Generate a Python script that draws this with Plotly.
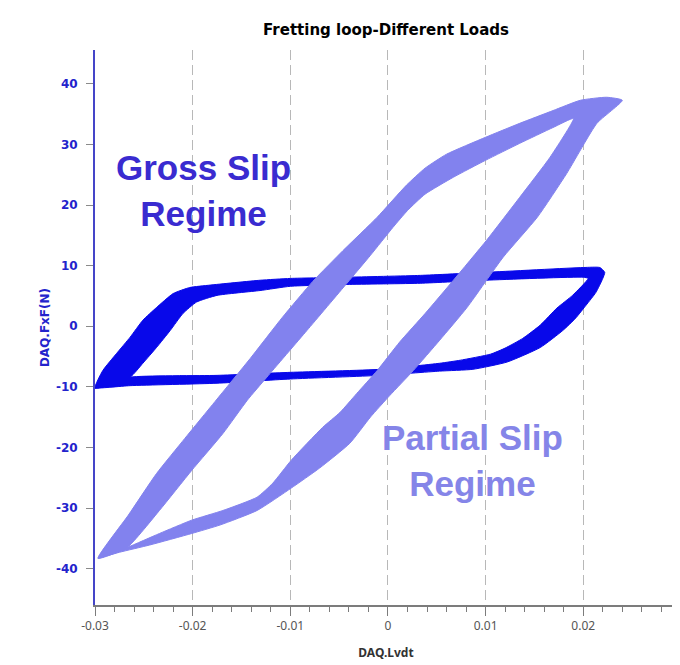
import plotly.graph_objects as go

# --- data (DAQ.Lvdt, DAQ.FxF(N)) ---
# partial slip loop: outer edge of the band (upper-left edge, then lower-right edge)
partial_outer_x = [-0.0297, -0.0266, -0.0237, -0.0208, -0.0177, -0.0141, -0.0108, -0.0077,
                   -0.0046, -0.0011, 0.0019, 0.0038, 0.0060, 0.0100, 0.0135, 0.0169, 0.0197, 0.0224,
                   0.0240, 0.0214, 0.0183, 0.0153, 0.0118, 0.0081, 0.0053, 0.0026, 0.0002,
                   -0.0018, -0.0039, -0.0070, -0.0099, -0.0134, -0.0172, -0.0201, -0.0244, -0.0275]
partial_outer_y = [-38.3, -31.2, -24.3, -18.5, -12.4, -5.3, 1.5, 7.4,
                   12.5, 18.0, 23.3, 26.1, 28.4, 31.2, 33.5, 35.6, 37.3, 37.8,
                   37.3, 33.5, 25.2, 18.0, 11.4, 3.1, -2.3, -7.3, -11.4,
                   -15.0, -19.3, -23.4, -26.7, -30.4, -32.8, -34.2, -36.1, -37.3]
# partial slip loop: inner edge of the band (the hole)
partial_inner_x = [-0.0267, -0.0234, -0.0201, -0.0169, -0.0144, -0.0124, -0.0083, -0.0042,
                   -0.0018, 0.0005, 0.0020, 0.0038, 0.0067, 0.0100, 0.0135, 0.0169, 0.0190,
                   0.0166, 0.0135, 0.0101, 0.0067, 0.0038, 0.0012, -0.0011, -0.0032,
                   -0.0049, -0.0067, -0.0099, -0.0118, -0.0134, -0.0169, -0.0201, -0.0234]
partial_inner_y = [-36.5, -30.4, -23.8, -17.7, -12.2, -8.4, -0.7, 7.1,
                   11.7, 16.3, 19.1, 21.8, 24.6, 27.4, 30.2, 32.8, 34.3,
                   27.9, 21.3, 14.2, 7.6, 2.1, -2.6, -7.3, -11.1,
                   -14.2, -16.7, -22.1, -25.9, -28.2, -30.4, -32.0, -34.2]

# gross slip loop: outer edge
gross_outer_x = [-0.0300, -0.0292, -0.0278, -0.0264, -0.0251, -0.0237, -0.0220, -0.0203,
                 -0.0182, -0.0131, -0.0100, -0.0042, 0.0033, 0.0100, 0.0200, 0.0217,
                 0.0222, 0.0220, 0.0213, 0.0203, 0.0192, 0.0179, 0.0156, 0.0122,
                 0.0087, 0.0053, -0.0008, -0.0100, -0.0175, -0.0264]
gross_outer_y = [-10.2, -7.3, -4.5, -1.8, 1.0, 3.1, 5.4, 6.4,
                 6.8, 7.6, 7.9, 8.1, 8.4, 8.9, 9.7, 9.7,
                 8.9, 7.9, 5.6, 3.5, 1.3, -0.7, -3.5, -5.9,
                 -7.1, -7.4, -8.1, -8.7, -9.4, -9.8]
# gross slip loop: inner edge
gross_inner_x = [-0.0264, -0.0251, -0.0237, -0.0223, -0.0210, -0.0196, -0.0175, -0.0131,
                 -0.0100, -0.0042, 0.0033, 0.0100, 0.0200, 0.0205,
                 0.0189, 0.0173, 0.0156, 0.0138, 0.0120, 0.0105, 0.0074, 0.0053,
                 -0.0008, -0.0100, -0.0175]
gross_inner_y = [-8.4, -6.1, -3.5, -0.7, 2.1, 4.0, 5.1, 5.9,
                 6.6, 6.9, 7.1, 7.6, 8.1, 7.9,
                 5.1, 3.0, 0.2, -2.0, -3.6, -4.6, -5.6, -6.1,
                 -7.1, -7.6, -8.1]

x_ticks = [-0.03, -0.02, -0.01, 0, 0.01, 0.02]
x_labels = ["-0.03", "-0.02", "-0.01", "0", "0.01", "0.02"]
y_ticks = [-40, -30, -20, -10, 0, 10, 20, 30, 40]
y_labels = ["-40", "-30", "-20", "-10", "0", "10", "20", "30", "40"]

GROSS = "#0808ea"
PARTIAL = "#8282ee"


def band(ox, oy, ix, iy):
    # outer ring, then a zero-width cut into the hole, inner ring walked the other way
    xs = ox + [ox[0]] + [ix[0]] + ix[:0:-1] + [ix[0], ox[0]]
    ys = oy + [oy[0]] + [iy[0]] + iy[:0:-1] + [iy[0], oy[0]]
    return xs, ys


fig = go.Figure()

gx, gy = band(gross_outer_x, gross_outer_y, gross_inner_x, gross_inner_y)
fig.add_trace(go.Scatter(x=gx, y=gy, mode="lines", fill="toself", fillcolor=GROSS,
                         line=dict(color=GROSS, width=1, shape="spline", smoothing=0.5),
                         hoverinfo="skip"))

px_, py_ = band(partial_outer_x, partial_outer_y, partial_inner_x, partial_inner_y)
fig.add_trace(go.Scatter(x=px_, y=py_, mode="lines", fill="toself", fillcolor=PARTIAL,
                         line=dict(color=PARTIAL, width=1, shape="spline", smoothing=0.5),
                         hoverinfo="skip"))

fig.add_annotation(x=-0.0189, y=22.4, text="Gross Slip<br>Regime", showarrow=False,
                   font=dict(family="Liberation Sans, Arial", size=35, color="#3a2bd0", weight="bold"))
fig.add_annotation(x=0.0087, y=-22.1, text="Partial Slip<br>Regime", showarrow=False,
                   font=dict(family="Liberation Sans, Arial", size=35, color="#8585e8", weight="bold"))

fig.update_layout(
    width=680, height=665,
    margin=dict(l=87, r=11, t=42, b=68),
    paper_bgcolor="white", plot_bgcolor="white",
    showlegend=False,
    title=dict(text="Fretting loop-Different Loads", x=0.5, xref="paper", xanchor="center",
               y=0.967, yanchor="middle",
               font=dict(family="DejaVu Sans", size=15, color="black", weight="bold")),
)

fig.update_xaxes(
    range=[-0.03, 0.0296],
    tickmode="array", tickvals=x_ticks, ticktext=x_labels,
    showgrid=True, gridcolor="#b8b8b8", gridwidth=1, griddash="10px,5px",
    zeroline=False,
    showline=True, linecolor="#7c7c7c", linewidth=1.5,
    ticks="outside", ticklen=9, tickcolor="#7c7c7c", tickwidth=1,
    minor=dict(dtick=0.002, tick0=0, ticks="outside", ticklen=5, tickcolor="#7c7c7c", showgrid=False),
    tickfont=dict(family="Noto Sans", size=12, color="#555555"),
    title=dict(text="DAQ.Lvdt", standoff=15,
               font=dict(family="Noto Sans", size=12, color="#333333", weight="bold")),
)

fig.update_yaxes(
    range=[-46, 45.6],
    tickmode="array", tickvals=y_ticks, ticktext=y_labels,
    showgrid=False, zeroline=False,
    showline=True, linecolor="#4545c8", linewidth=2,
    ticks="outside", ticklen=7, tickcolor="#8a8a8a", tickwidth=1,
    ticklabelstandoff=6,
    tickfont=dict(family="DejaVu Sans", size=12, color="#2323cc", weight="bold"),
    title=dict(text="DAQ.FxF(N)", standoff=4,
               font=dict(family="DejaVu Sans", size=12, color="#2323cc", weight="bold")),
)

fig.write_html("out.html")
